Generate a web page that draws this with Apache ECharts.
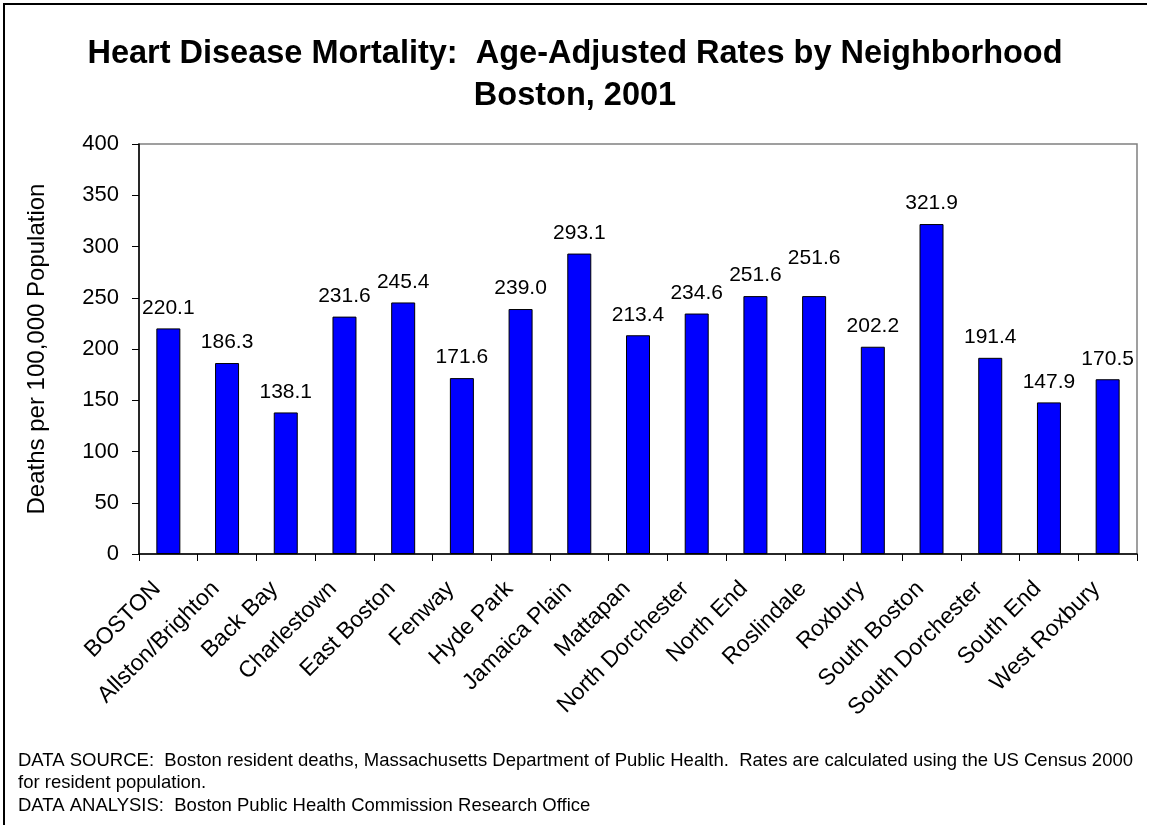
<!DOCTYPE html>
<html>
<head>
<meta charset="utf-8">
<script src="https://cdn.jsdelivr.net/npm/echarts@6/dist/echarts.min.js"></script>
<style>
html,body{margin:0;padding:0;background:#fff;}
#chart{width:1150px;height:827px;}
</style>
</head>
<body>
<div id="chart"></div>
<script>
const categories = ["BOSTON","Allston/Brighton","Back Bay","Charlestown","East Boston","Fenway","Hyde Park","Jamaica Plain","Mattapan","North Dorchester","North End","Roslindale","Roxbury","South Boston","South Dorchester","South End","West Roxbury"];
const rates = [220.1,186.3,138.1,231.6,245.4,171.6,239.0,293.1,213.4,234.6,251.6,251.6,202.2,321.9,191.4,147.9,170.5];
const yTicks = [0,50,100,150,200,250,300,350,400];
const titleLines = ["Heart Disease Mortality:  Age-Adjusted Rates by Neighborhood","Boston, 2001"];
const yAxisName = "Deaths per 100,000 Population";
const footerLines = [
  "DATA SOURCE:  Boston resident deaths, Massachusetts Department of Public Health.  Rates are calculated using the US Census 2000",
  "for resident population.",
  "DATA ANALYSIS:  Boston Public Health Commission Research Office"
];

// label placement tweaks (style only)
const labelLift = {"Roslindale": -17};

const FONT = "Liberation Sans, Arial, sans-serif";
const chart = echarts.init(document.getElementById('chart'), null, {renderer:'canvas'});

const barData = rates.map((v,i)=>{
  const d = {value:v};
  if (labelLift[categories[i]] !== undefined) {
    d.label = {offset:[0, labelLift[categories[i]]]};
  }
  return d;
});

chart.setOption({
  backgroundColor:'#ffffff',
  animation:false,
  title:[
    {text:titleLines.join('\n'), left:'center', top:33, padding:0,
     textStyle:{fontFamily:FONT, fontSize:32.5, fontWeight:'bold', color:'#000', lineHeight:42}},
    {text:footerLines.join('\n'), left:18, top:749.5, padding:0,
     textStyle:{fontFamily:FONT, fontSize:18.5, fontWeight:'normal', color:'#000', lineHeight:22.5}}
  ],
  graphic:[
    {type:'line', shape:{x1:4, y1:3, x2:4, y2:825}, style:{stroke:'#000', lineWidth:2}},
    {type:'line', shape:{x1:3, y1:4, x2:1147, y2:4}, style:{stroke:'#000', lineWidth:2}}
  ],
  grid:{left:139, top:144, right:13, bottom:273, show:true, borderColor:'#808080', borderWidth:1.5, backgroundColor:'#fff'},
  xAxis:{
    type:'category', data:categories,
    axisLine:{show:true, lineStyle:{color:'#000', width:1.5}},
    axisTick:{show:true, length:7, lineStyle:{color:'#000'}},
    axisLabel:{rotate:45, interval:0, margin:20, padding:[0,16,0,0], fontFamily:FONT, fontSize:23, color:'#000'},
    splitLine:{show:false}
  },
  yAxis:{
    type:'value', min:yTicks[0], max:yTicks[yTicks.length-1], interval:yTicks[1]-yTicks[0],
    name:yAxisName, nameLocation:'middle', nameGap:90, nameRotate:90,
    nameTextStyle:{fontFamily:FONT, fontSize:24, color:'#000'},
    axisLine:{show:true, lineStyle:{color:'#000', width:1.5}},
    axisTick:{show:true, length:7, lineStyle:{color:'#000'}},
    axisLabel:{margin:20, fontFamily:FONT, fontSize:22, color:'#000'},
    splitLine:{show:false}
  },
  series:[{
    type:'bar', data:barData, barWidth:24,
    itemStyle:{color:'#0000ff', borderColor:'#000', borderWidth:1},
    label:{show:true, position:'top', distance:10, fontFamily:FONT, fontSize:21, color:'#000',
      formatter:p=>p.value.toFixed(1)}
  }]
});
</script>
</body>
</html>
